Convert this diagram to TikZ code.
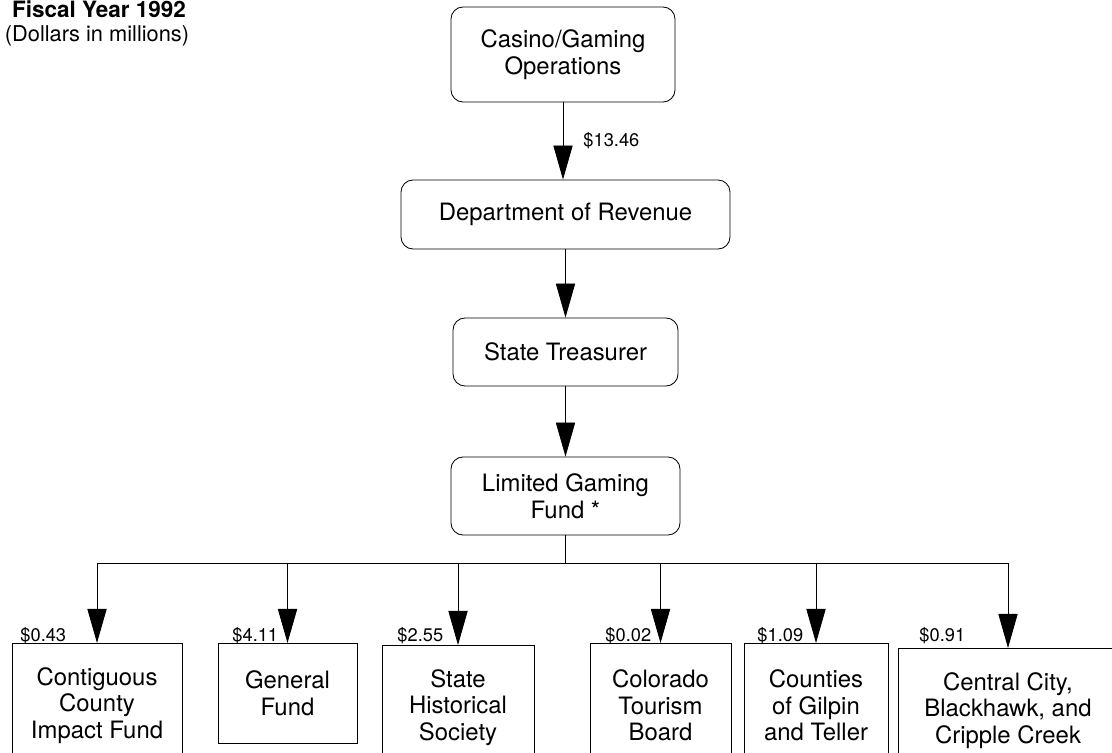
\documentclass[tikz,border=0pt]{standalone}
\usepackage{fontspec}
\setmainfont{TeX Gyre Heros}
\usetikzlibrary{arrows.meta}
\tikzset{>={Triangle[length=0.85cm,width=0.48cm]}}
\tikzset{
	office/.style={draw, rounded corners=0.3cm, align=center, inner sep=0pt, font=\fontsize{17}{19}\selectfont},
	fund/.style={draw, anchor=north, align=center, inner sep=0pt, font=\fontsize{17}{19}\selectfont},
	amount/.style={anchor=base west, inner sep=0pt, font=\fontsize{13}{15}\selectfont}
}

\begin{document}
\begin{tikzpicture}[x=0.025cm, y=-0.025cm, line width=0.6pt]

\def\px{0.025cm}
\def\h{124}

\useasboundingbox (0,0) rectangle (1112,753);
\clip (0,0) rectangle (1112,753);

% Heading
\node[anchor=base, inner sep=0pt, font=\bfseries\fontsize{16}{18}\selectfont] (title) at (99,18) {Fiscal Year 1992};
\node[anchor=base, inner sep=0pt, font=\fontsize{15.5}{18}\selectfont] (units) at (97,42) {(Dollars in millions)};

% Offices
\node[office, minimum width=224*\px, minimum height=95*\px] (casino) at (563,54.5) {Casino/Gaming\\Operations};

\node[office, minimum width=329*\px, minimum height=69*\px] (dor) at (565.5,214.5) {Department of Revenue};

\node[office, minimum width=225*\px, minimum height=68*\px] (treas) at (565.5,352) {State Treasurer};

\node[office, minimum width=229*\px, minimum height=78*\px] (lgf) at (565.5,496) {Limited Gaming\\Fund *};

\draw[->] (casino.south) -- (casino.south |- dor.north);
\draw[->] (dor.south) -- (dor.south |- treas.north);
\draw[->] (treas.south) -- (treas.south |- lgf.north);

\node[amount] (total) at (583,147) {\$13.46};

% Funds
\node[fund, minimum width=170*\px, minimum height=\h*\px] (f1) at (97,643) {Contiguous\\County\\Impact Fund};
\node[fund, minimum width=139*\px, minimum height=100*\px] (f2) at (287.5,643) {General\\Fund};
\node[fund, minimum width=152*\px, minimum height=\h*\px] (f3) at (458,645) {State\\Historical\\Society};
\node[fund, minimum width=141*\px, minimum height=\h*\px] (f4) at (660.5,643) {Colorado\\Tourism\\Board};
\node[fund, minimum width=144*\px, minimum height=\h*\px] (f5) at (816,643) {Counties\\of Gilpin\\and Teller};
\node[fund, minimum width=220*\px, minimum height=\h*\px] (f6) at (1008,648) {Central City,\\Blackhawk, and\\Cripple Creek};

\coordinate (bus) at (564,563);
\draw (lgf.south) -- (lgf.south |- bus);
\draw (f1.north |- bus) -- (f6.north |- bus);
\foreach \i in {1,...,6}{
	\draw[->] (f\i.north |- bus) -- (f\i.north);
}

% Amounts
\node[amount] (a1) at (20,641) {\$0.43};
\node[amount] (a2) at (232,641) {\$4.11};
\node[amount] (a3) at (397,641) {\$2.55};
\node[amount] (a4) at (605,641) {\$0.02};
\node[amount] (a5) at (757,641) {\$1.09};
\node[amount] (a6) at (919,642) {\$0.91};

\end{tikzpicture}
\end{document}
